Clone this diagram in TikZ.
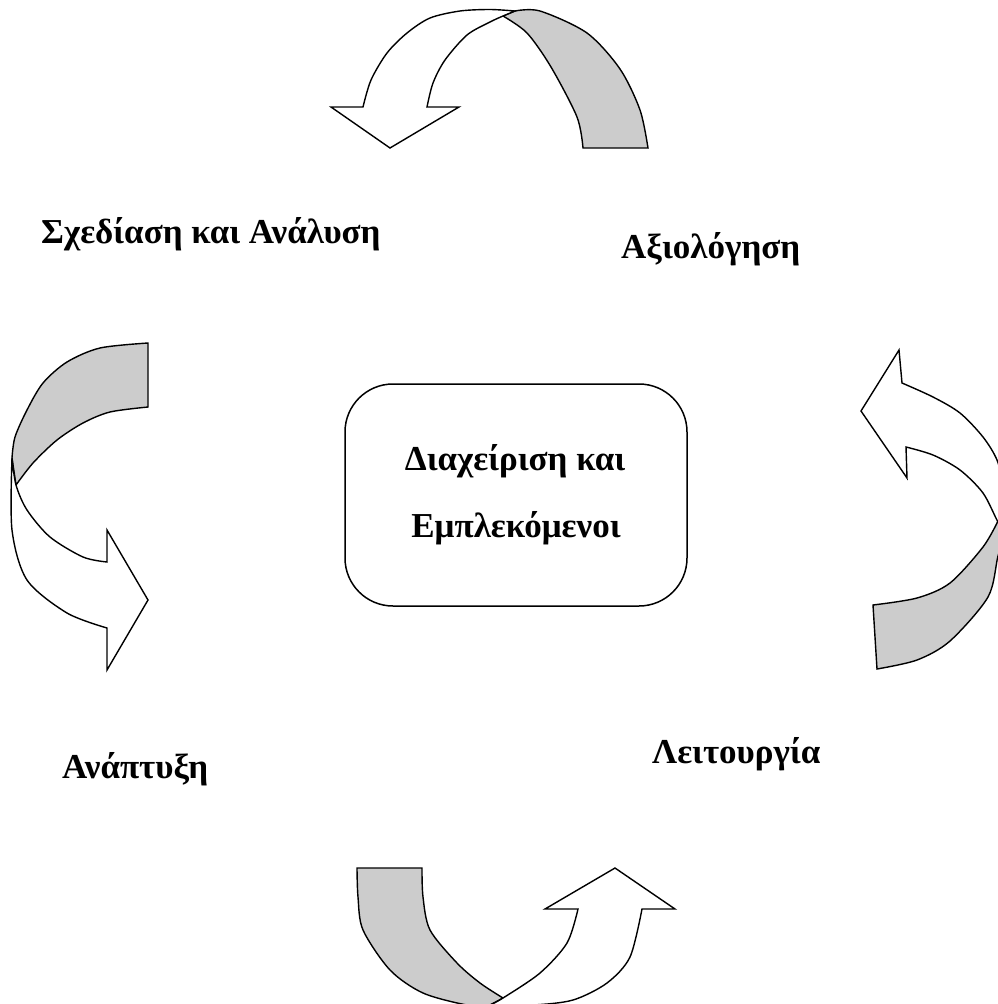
\documentclass[tikz,border=0pt]{standalone}
\usepackage{fontspec}
\setmainfont{Liberation Serif}
\definecolor{bandgray}{RGB}{204,204,204}
\begin{document}
\begin{tikzpicture}[x=1bp,y=-1bp,
  graybk/.style={fill=bandgray,draw=black,line width=1.4bp,line join=miter},
  whitebk/.style={fill=white,draw=black,line width=1.4bp,line join=miter},
  lbl/.style={inner sep=0pt,font=\bfseries\fontsize{35bp}{42bp}\selectfont},
  cbox/.style={draw=black,line width=1.5bp,rounded corners=48bp,minimum width=342bp,minimum height=222bp,inner sep=0pt}]
\useasboundingbox (0,0) rectangle (998,1004);
\clip (0,0) rectangle (998,1004);
% ---- top arrow ----
\filldraw[graybk] plot[smooth] coordinates {(515,11) (540,11) (587,33) (620,69) (640,110) (648,148)} -- (583,148)
  -- plot[smooth] coordinates {(583,148) (577,117) (551,67) (527,33) (503,16)} -- cycle;
\filldraw[whitebk] (331,107) -- plot[smooth] coordinates {(363,107) (371,80) (387,53) (407,33) (430,18) (460,11) (490,9.5) (515,11)}
  -- plot[smooth] coordinates {(515,11) (503,16) (490,22) (467,35) (445,60) (433,83) (427,107)} -- (459,107) -- (390,148) -- cycle;
% ---- left arrow ----
\filldraw[graybk] plot[smooth] coordinates {(12,458) (15,437) (27,410) (43,383) (67,362) (100,348) (148,343)} -- (148,407)
  -- plot[smooth] coordinates {(148,407) (110,412) (83,423) (57,440) (33,463) (16,485)} -- cycle;
\filldraw[whitebk] plot[smooth] coordinates {(12,458) (12,530) (27,580) (67,613) (107,628)} -- (107,670) -- (148,600) -- (107,530)
  -- plot[smooth] coordinates {(107,562) (83,557) (50,537) (27,510) (16,485) (12,458)} -- cycle;
% ---- right arrow ----
\filldraw[graybk] plot[smooth] coordinates {(1006,532) (998,556) (988,597) (950,641) (917,660) (877,669)} -- (873,605)
  -- plot[smooth] coordinates {(873,605) (917,598) (950,583) (983,547) (998,521)} -- cycle;
\filldraw[whitebk] (861,411) -- (899,350) -- plot[smooth] coordinates {(902,383) (933,397) (960,413) (983,437) (997,460) (1005,490) (1007,515) (1006,532)}
  -- plot[smooth] coordinates {(1006,532) (998,522) (983,493) (960,470) (933,455) (906,447)} -- (907,478) -- cycle;
% ---- bottom arrow ----
\filldraw[graybk] plot[smooth] coordinates {(490,1005) (467,1005) (423,993) (390,970) (363,930) (358,897) (357,868)} -- (422,868)
  -- plot[smooth] coordinates {(422,868) (423,897) (430,930) (457,963) (480,983) (503,998)} -- cycle;
\filldraw[whitebk] plot[smooth] coordinates {(490,1005) (533,1005) (573,1000) (607,983) (630,957) (642,909)} -- (675,909) -- (615,868) -- (545,909)
  -- plot[smooth] coordinates {(578,909) (567,943) (540,973) (503,998) (490,1005)} -- cycle;
% ---- centre box ----
\node[cbox] (centre) at (516,495) {};
\node[lbl,anchor=base] (c1) at (515,470) {Διαχείριση και};
\node[lbl,anchor=base] (c2) at (516,537) {Εμπλεκόμενοι};
% ---- stage labels ----
\node[lbl,anchor=base west] (design) at (41,243) {Σχεδίαση και Ανάλυση};
\node[lbl,anchor=base west] (eval) at (621,258) {Αξιολόγηση};
\node[lbl,anchor=base west] (dev) at (62,778) {Ανάπτυξη};
\node[lbl,anchor=base west] (oper) at (652,763) {Λειτουργία};
\end{tikzpicture}
\end{document}
